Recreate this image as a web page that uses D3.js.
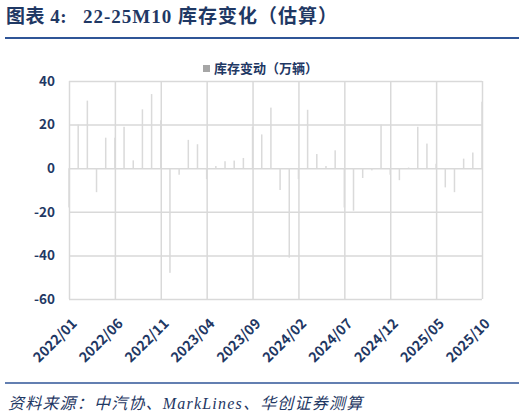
<!DOCTYPE html>
<html>
<head>
<meta charset="utf-8">
<script src="https://cdn.jsdelivr.net/npm/d3@7"></script>
<style>
  body { margin: 0; background: #fff; }
  svg { display: block; }
</style>
</head>
<body>
<div id="chart"></div>
<script>
// months 2022/01 .. 2025/10
var months = [];
for (var y = 2022; y <= 2025; y++) {
  for (var m = 1; m <= 12; m++) {
    if (y == 2025 && m > 10) break;
    months.push(y + "/" + (m < 10 ? "0" + m : m));
  }
}

// 库存变动（万辆）
var stockChange = [
  -18, 20, 31, -11, 14, 14, 19, 3.6, 27, 34, 22, -48,
  -3, 13, 11, -5, 1, 3.2, 3.5, 4.7, 19, 15.5, 27.8, -10,
  -41, -5, 26.8, 6.5, 1, 8.2, -18, -19.5, -4.5, -1, 20, -3,
  -5.5, 0.3, 19, 11.3, 2, -8.8, -11, 4.4, 7.2, 30.5
];

var yTicks = [-60, -40, -20, 0, 20, 40];
var xTickLabels = ["2022/01", "2022/06", "2022/11", "2023/04", "2023/09",
                   "2024/02", "2024/07", "2024/12", "2025/05", "2025/10"];

var width = 524, height = 418;
var margin = { top: 81, right: 42, bottom: 119, left: 69 };
var plotW = width - margin.left - margin.right,
    plotH = height - margin.top - margin.bottom;

var navy = "#1f3864";
var cjkSans = "'Noto Sans CJK SC', 'Noto Sans', sans-serif";
var serif = "'Liberation Serif', 'Noto Sans CJK SC', serif";

var svg = d3.select("#chart")
            .append("svg")
            .attr("width", width)
            .attr("height", height);

// title
var title = svg.append("text")
   .attr("y", 23)
   .style("font-family", serif)
   .style("font-weight", "bold")
   .style("font-size", "19px")
   .style("fill", navy);
title.append("tspan")
   .attr("x", 6)
   .style("letter-spacing", "0.5px")
   .text("图表 4:");
title.append("tspan")
   .attr("x", 83)
   .style("letter-spacing", "1px")
   .text("22-25M10 库存变化（估算）");

svg.append("line")
   .attr("x1", 5).attr("x2", 519)
   .attr("y1", 38).attr("y2", 38)
   .style("stroke", "#2f5597")
   .style("stroke-width", 2);

// footer
svg.append("line")
   .attr("x1", 5).attr("x2", 519)
   .attr("y1", 383).attr("y2", 383)
   .style("stroke", "#2f5597")
   .style("stroke-width", 1.5);

svg.append("text")
   .attr("x", 8)
   .attr("y", 409)
   .style("font-family", serif)
   .style("font-style", "italic")
   .style("font-size", "16px")
   .style("letter-spacing", "1.2px")
   .style("fill", navy)
   .text("资料来源：中汽协、MarkLines、华创证券测算");

var x = d3.scalePoint()
          .domain(months)
          .range([0, plotW]);

var yScale = d3.scaleLinear()
          .domain([-60, 40])
          .range([plotH, 0]);

var g = svg.append("g")
           .attr("transform", "translate(" + margin.left + "," + margin.top + ")");

// horizontal grid + y labels
var yAxis = g.append("g")
   .call(d3.axisLeft(yScale).tickValues(yTicks).tickSize(-plotW)
           .tickFormat(function(d) { return String(d); }));
yAxis.select(".domain").remove();
yAxis.selectAll(".tick line")
     .style("stroke", "#d9d9d9")
     .style("stroke-width", 1.5);
yAxis.selectAll(".tick text")
     .attr("x", -14)
     .style("font-family", cjkSans)
     .style("font-weight", "bold")
     .style("font-size", "13.5px")
     .style("fill", navy);

// vertical grid + x labels
var xAxis = g.append("g")
   .attr("transform", "translate(0," + plotH + ")")
   .call(d3.axisBottom(x).tickValues(xTickLabels).tickSize(-plotH));
xAxis.select(".domain").remove();
xAxis.selectAll(".tick line")
     .style("stroke", "#d9d9d9")
     .style("stroke-width", 1.5);
xAxis.selectAll(".tick text")
     .attr("text-anchor", "end")
     .attr("x", 0)
     .attr("y", 0)
     .attr("dy", "0.35em")
     .attr("transform", "translate(5,22) rotate(-45)")
     .style("font-family", cjkSans)
     .style("font-weight", "bold")
     .style("font-size", "14px")
     .style("fill", navy);

// bars
var barWidth = 1.5;
g.append("g")
 .selectAll("rect")
 .data(stockChange)
 .enter()
 .append("rect")
 .attr("x", function(d, i) { return x(months[i]) - barWidth / 2; })
 .attr("y", function(d) { return yScale(Math.max(0, d)); })
 .attr("width", barWidth)
 .attr("height", function(d) { return Math.abs(yScale(d) - yScale(0)); })
 .style("fill", "#dadada");

// legend
svg.append("rect")
   .attr("x", 203).attr("y", 65)
   .attr("width", 7).attr("height", 7)
   .style("fill", "#a6a6a6");

svg.append("text")
   .attr("x", 214)
   .attr("y", 68)
   .attr("dy", "0.35em")
   .style("font-family", cjkSans)
   .style("font-weight", "bold")
   .style("font-size", "13px")
   .style("fill", navy)
   .text("库存变动（万辆）");
</script>
</body>
</html>
